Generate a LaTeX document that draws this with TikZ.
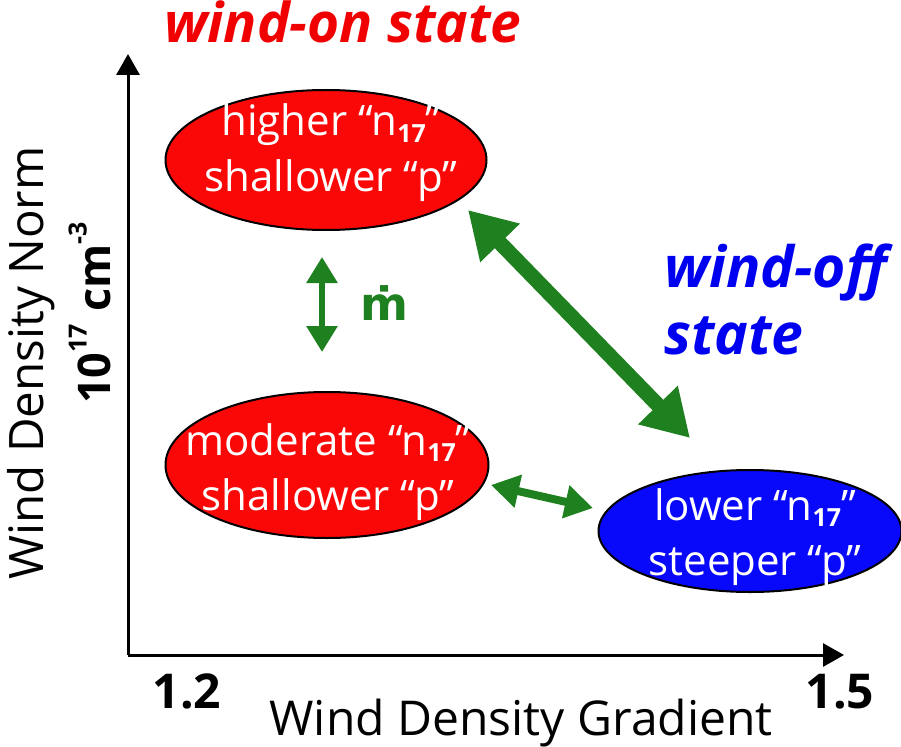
\documentclass[tikz,border=0pt]{standalone}
\usepackage{fontspec}
\setmainfont{Open Sans}
\newfontfamily\djv{DejaVu Sans}
\usetikzlibrary{arrows.meta,shapes.geometric}
\definecolor{ered}{RGB}{250,8,8}
\definecolor{eblue}{RGB}{8,8,250}
\definecolor{agreen}{RGB}{30,128,30}
\definecolor{tred}{RGB}{240,0,0}
\definecolor{tblue}{RGB}{0,0,240}
\newcommand\sbs[1]{\raisebox{-0.3ex}{\fontsize{25}{25}\bfseries\selectfont #1}}
\newcommand\sps[1]{\raisebox{0.95ex}{\fontsize{25}{25}\selectfont #1}}
\begin{document}
\begin{tikzpicture}[x=1pt,y=-1pt,
  state/.style={ellipse, draw=black, line width=2pt, inner sep=0pt},
  stxt/.style={text=white, align=center, inner sep=0pt, anchor=base, font=\fontsize{42}{55}\selectfont},
  axis/.style={line width=3pt, -{Triangle[length=21pt,width=23pt]}},
  garrow/.style={draw=agreen, color=agreen}]
\useasboundingbox (0,0) rectangle (901,746);
\coordinate (O) at (128,655);
\coordinate (ytop) at (128,54);
\coordinate (xend) at (844,655);
\draw[axis] (O) -- (ytop);
\draw[axis] (O) -- (xend);
\node (e1) [state, fill=ered, minimum width=321pt, minimum height=140pt] at (326,160) {};
\node (e2) [state, fill=ered, minimum width=323pt, minimum height=146pt] at (327,465) {};
\node (e3) [state, fill=eblue, minimum width=303pt, minimum height=122pt] at (750,531) {};
\node (t1) [stxt] at (331,191) {higher “n\sbs{17}”\\shallower “p”};
\node (t2) [stxt] at (328,510) {moderate “n\sbs{17}”\\shallower “p”};
\node (t3) [stxt] at (755,575) {lower “n\sbs{17}”\\steeper “p”};
\node (won) [text=tred, anchor=base, inner sep=0pt, font=\fontsize{55}{55}\bfseries\itshape\selectfont] at (343,43) {wind-on state};
\node (woff) [text=tblue, anchor=base west, inner sep=0pt, font=\fontsize{57}{67}\bfseries\itshape\selectfont, align=left] at (664,354) {wind-off\\state};
\node (x1) [anchor=base, font=\fontsize{48}{48}\bfseries\selectfont] at (187,708) {1.2};
\node (x2) [anchor=base, font=\fontsize{48}{48}\bfseries\selectfont] at (840,708) {1.5};
\node (xl) [anchor=base, inner sep=0pt, font=\fontsize{48}{48}\selectfont] at (521,735) {Wind Density Gradient};
\node (yl) [anchor=base, inner sep=0pt, font=\fontsize{47.5}{48}\selectfont, rotate=90] at (43,363) {Wind Density Norm};
\node (yu) [anchor=base, inner sep=0pt, font=\fontsize{45}{45}\bfseries\selectfont, rotate=90] at (110,313) {10\sps{17}\hspace{12pt}cm\sps{-3}};
\node (md) [anchor=base, inner sep=0pt, text=agreen, font=\djv\fontsize{46}{46}\bfseries\selectfont] at (384,320) {ṁ};
\coordinate (a1) at (322,257);
\coordinate (a2) at (322,352);
\coordinate (b1) at (468,210);
\coordinate (b2) at (690,438);
\coordinate (c1) at (491,485);
\coordinate (c2) at (593,508);
\draw[garrow, line width=6pt, {Triangle[length=26pt,width=30pt]}-{Triangle[length=26pt,width=30pt]}] (a1) -- (a2);
\draw[garrow, line width=15pt, {Triangle[length=46pt,width=52pt]}-{Triangle[length=46pt,width=52pt]}] (b1) -- (b2);
\draw[garrow, line width=8pt, {Triangle[length=28pt,width=32pt]}-{Triangle[length=28pt,width=32pt]}] (c1) -- (c2);
\end{tikzpicture}
\end{document}
